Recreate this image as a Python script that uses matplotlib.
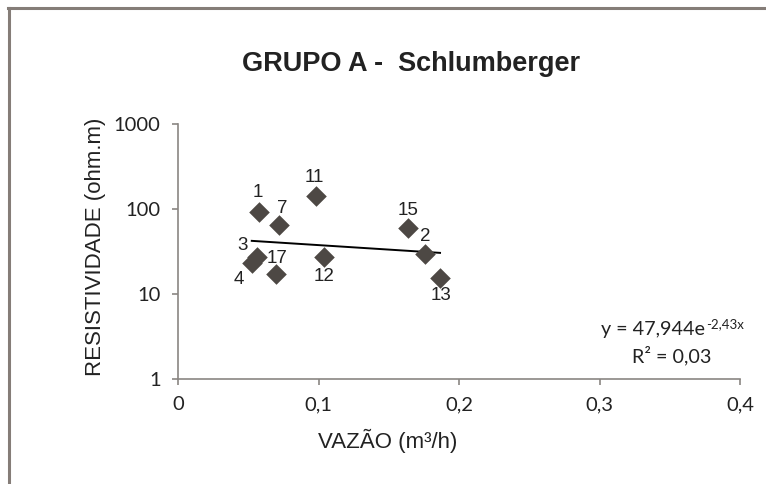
import matplotlib.pyplot as plt
import numpy as np
from matplotlib.lines import Line2D

#------------------- dados -------------------
poco = ['1', '7', '11', '3', '4', '17', '12', '15', '2', '13']
vazao = [0.058, 0.072, 0.098, 0.056, 0.0525, 0.070, 0.104, 0.164, 0.176, 0.1865]
resist = [91, 65, 142, 27.5, 23, 17.2, 27.5, 60, 29.3, 15.3]

# linha de tendencia exponencial y = a*e^(b*x)
coef_a = 47.944
coef_b = -2.43
r2 = 0.03

# deslocamento dos rotulos (pontos)
desloc = {'1': (-1, 14.5), '7': (2, 12), '11': (-1, 13.5), '3': (-10, 7.7),
          '4': (-9, -11.5), '17': (0.5, 11.3), '12': (0, -14.4), '15': (0, 12.7),
          '2': (0, 12.7), '13': (0.5, -12.7)}
#---------------------------------------------

cinza = '#8a8683'
texto = '#222222'
fonte_num = 'Lato'

fig = plt.figure(figsize=(7.66, 4.84), dpi=100)
fig.patch.set_facecolor('white')

# moldura do grafico
fig.add_artist(Line2D([8/766, 1], [1 - 8/484, 1 - 8/484], color='#857d78', lw=2.2))
fig.add_artist(Line2D([9/766, 9/766], [0, 1 - 8/484], color='#857d78', lw=2.2))

ax = fig.add_axes([178/766, 1 - 379/484, (740 - 178)/766, (379 - 124)/484])

ax.scatter(vazao, resist, marker='D', s=110, color='#4d4844', zorder=3, linewidths=0)

xs = np.linspace(min(vazao), max(vazao), 50)
ax.plot(xs, coef_a * np.exp(coef_b * xs), color='black', lw=1.4, zorder=2)

for p, x, y in zip(poco, vazao, resist):
    dx, dy = desloc[p]
    ax.annotate(p, (x, y), xytext=(dx, dy), textcoords='offset points',
                ha='center', va='center', fontsize=13.5, family='Liberation Sans',
                color=texto)

ax.set_yscale('log')
ax.set_ylim(1, 1000)
ax.set_xlim(0, 0.4)
ax.set_xticks([0, 0.1, 0.2, 0.3, 0.4])
ax.set_xticklabels(['0', '0,1', '0,2', '0,3', '0,4'])
ax.set_yticks([1, 10, 100, 1000])
ax.set_yticklabels(['1', '10', '100', '1000'])
ax.minorticks_off()

for lado in ['top', 'right']:
    ax.spines[lado].set_visible(False)
for lado in ['left', 'bottom']:
    ax.spines[lado].set_color(cinza)
    ax.spines[lado].set_linewidth(1.2)
ax.tick_params(direction='out', length=4.5, width=1.2, color=cinza,
               labelsize=14.5, labelcolor=texto, pad=8)
for t in ax.get_xticklabels() + ax.get_yticklabels():
    t.set_family(fonte_num)

# titulos dos eixos
fig.text(388/766, 1 - 441/484, 'VAZÃO (m³/h)', ha='center', va='center',
         fontsize=16, family='Liberation Sans', color=texto)
fig.text(95/766, 1 - 247/484, 'RESISTIVIDADE (ohm.m)', ha='center', va='center',
         rotation=90, fontsize=16, family='Liberation Sans', color=texto)

fig.text(411/766, 1 - 64/484, 'GRUPO A -  Schlumberger', ha='center', va='center',
         fontsize=19.5, fontweight='bold', family='Liberation Sans', color=texto)

# equacao da tendencia (expoente como texto separado)
eq_base = 'y = {}e'.format(str(coef_a).replace('.', ','))
eq_exp = '{}x'.format(str(coef_b).replace('.', ','))
base = fig.text(601/766, 1 - 330/484, eq_base, ha='left', va='center',
                fontsize=14.2, family=fonte_num, color=texto)
fig.canvas.draw()
bb = base.get_window_extent()
fig.text(bb.x1 / fig.bbox.width + 1/766, (bb.y1 - 3) / fig.bbox.height, eq_exp,
         ha='left', va='center', fontsize=9.5, family=fonte_num, color=texto)
fig.text(632/766, 1 - 356/484, 'R² = {}'.format(str(r2).replace('.', ',')),
         ha='left', va='center', fontsize=14.2, family=fonte_num, color=texto)

fig.savefig('out.png', dpi=100)
